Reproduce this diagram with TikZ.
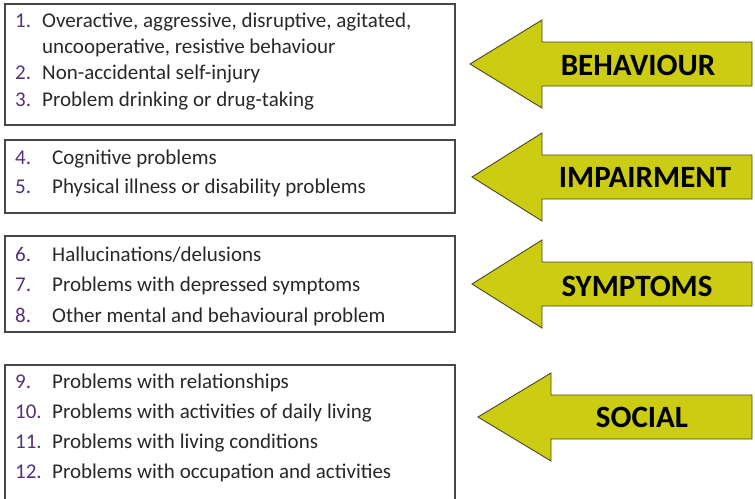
\documentclass[tikz,border=0pt]{standalone}
\usepackage{fontspec}
\setmainfont{Carlito}
\usetikzlibrary{calc}

\definecolor{numpurple}{RGB}{84,48,122}
\definecolor{itemgray}{RGB}{40,40,40}
\definecolor{arrowfill}{RGB}{204,204,18}
\definecolor{arrowline}{RGB}{72,72,36}

\begin{document}
\begin{tikzpicture}[x=1pt,y=-1pt,
	box/.style={draw=black!72,line width=1.3pt},
	num/.style={anchor=west,inner sep=0pt,text=numpurple,
		font=\fontsize{21}{24}\selectfont,text height=13.5pt,text depth=0pt},
	item/.style={anchor=west,inner sep=0pt,text=itemgray,
		font=\fontsize{21}{24}\selectfont,text height=13.5pt,text depth=0pt},
	arrowbody/.style={fill=arrowfill,draw=arrowline,line width=0.9pt,line join=miter},
	tag/.style={inner sep=0pt,text=black,font=\fontsize{31}{34}\selectfont\bfseries}]

\clip (0,0) rectangle (755,498);

% the four boxes
\draw[box] (5,4) rectangle (455,125);
\draw[box] (5,140) rectangle (455,213);
\draw[box] (5,236) rectangle (455,332);
\draw[box] (5,365) rectangle (455,510);

% box 1
\foreach \n/\y/\t in {1/21/{Overactive, aggressive, disruptive, agitated,},
		2/73/{Non-accidental self-injury},
		3/100/{Problem drinking or drug-taking}}{
	\node[num] (n\n) at (15,\y) {\n.};
	\node[item] (t\n) at (42,\y) {\t};
}
\node[item] (t1b) at (42,47) {uncooperative, resistive behaviour};

% boxes 2 to 4
\foreach \n/\y/\t in {4/158/{Cognitive problems},
		5/187/{Physical illness or disability problems},
		6/255/{Hallucinations/delusions},
		7/285/{Problems with depressed symptoms},
		8/316/{Other mental and behavioural problem},
		9/382/{Problems with relationships},
		10/412/{Problems with activities of daily living},
		11/442/{Problems with living conditions},
		12/472/{Problems with occupation and activities}}{
	\node[num] (n\n) at (15,\y) {\n.};
	\node[item] (t\n) at (52,\y) {\t};
}

% arrows
\foreach \nm/\tx/\ty/\bx/\lx/\ly/\lab in {behav/470/64/542/638/65/BEHAVIOUR,
		impair/472/177/542/645/177/IMPAIRMENT,
		sympt/472/284/542/637/286/SYMPTOMS,
		social/478/417/551/642/417/SOCIAL}{
	\draw[arrowbody] (\tx,\ty) -- (\bx,\ty-44) -- (\bx,\ty-22)
		-- (752,\ty-22) -- (752,\ty+22) -- (\bx,\ty+22)
		-- (\bx,\ty+44) -- cycle;
	\node[tag] (\nm) at (\lx,\ly) {\lab};
}

\end{tikzpicture}
\end{document}
